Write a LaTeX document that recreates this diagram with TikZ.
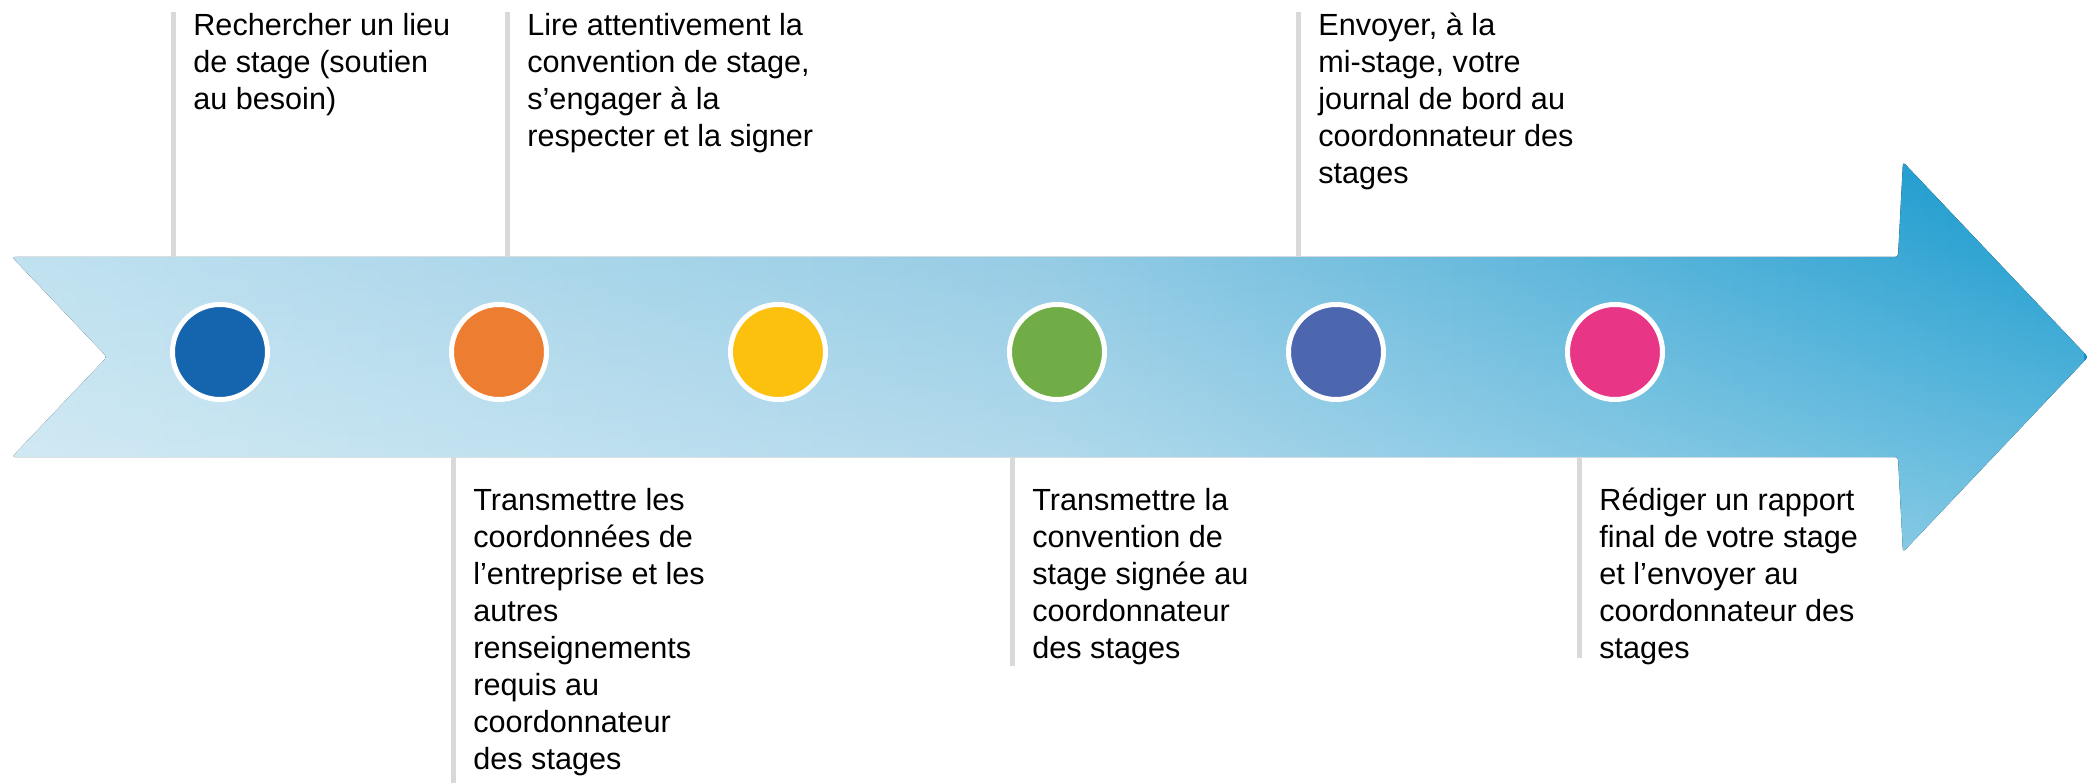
\documentclass[tikz,border=0pt]{standalone}
\usepackage{fontspec}
\setmainfont{Liberation Sans}
\usetikzlibrary{positioning, fadings}
\definecolor{stepblue}{RGB}{21,101,174}
\definecolor{steporange}{RGB}{237,125,49}
\definecolor{stepyellow}{RGB}{252,192,14}
\definecolor{stepgreen}{RGB}{112,173,71}
\definecolor{stepindigo}{RGB}{76,103,175}
\definecolor{steppink}{RGB}{232,53,134}
\definecolor{arrowlight}{RGB}{185,222,238}
\definecolor{arrowmid}{RGB}{137,198,226}
\definecolor{arrowdark}{RGB}{14,150,204}
\definecolor{guidegray}{RGB}{217,217,217}
\tikzfading[name=fadeup, top color=transparent!100, bottom color=transparent!55]

\begin{document}
\begin{tikzpicture}[
    x=0.5pt, y=0.5pt,
    node distance=92pt,
    stepdot/.style={circle, draw=white, line width=2.5pt, minimum size=47.5pt, inner sep=0pt, outer sep=0pt},
    stepnote/.style={anchor=north west, align=left, inner sep=0pt, font=\fontsize{15.3}{18.5}\selectfont, text=black},
    guide/.style={draw=guidegray, line width=2.5pt}
]
\useasboundingbox (0,0) rectangle (2088,783);

% big arrow
\coordinate (shafttop) at (12,526);
\coordinate (shaftbot) at (12,326);
\begin{scope}
  \clip [rounded corners=1.5pt]
    (shafttop) -- (1898,526) -- (1903,621) -- (2088,426) -- (1903,231) -- (1898,326) -- (shaftbot) -- (107,426) -- cycle;
  \fill [left color=arrowlight, right color=arrowdark, middle color=arrowmid] (12,231) rectangle (2088,621);
  \fill [white, path fading=fadeup] (12,231) rectangle (2088,621);
\end{scope}

% steps
\node (c1) [stepdot, fill=stepblue] at (220,431) {};
\node (c2) [stepdot, fill=steporange, right=of c1] {};
\node (c3) [stepdot, fill=stepyellow, right=of c2] {};
\node (c4) [stepdot, fill=stepgreen, right=of c3] {};
\node (c5) [stepdot, fill=stepindigo, right=of c4] {};
\node (c6) [stepdot, fill=steppink, right=of c5] {};

% guide lines
\coordinate (t1) at (173,771);
\coordinate (t3) at (507,771);
\coordinate (t5) at (1298,771);
\coordinate (b2) at (453,326);
\coordinate (b4) at (1012,326);
\coordinate (b6) at (1579,326);
\coordinate (b2end) at (453,0);
\coordinate (b4end) at (1012,117);
\coordinate (b6end) at (1579,125);

\draw [guide] (t1) -- (t1 |- shafttop);
\draw [guide] (t3) -- (t3 |- shafttop);
\draw [guide] (t5) -- (t5 |- shafttop);
\draw [guide] (b2) -- (b2end);
\draw [guide] (b4) -- (b4end);
\draw [guide] (b6) -- (b6end);

% texts
\node (n1) [stepnote, below right=0.3pt and 10pt of t1] {Rechercher un lieu\\de stage (soutien\\au besoin)};
\node (n3) [stepnote, below right=0.3pt and 10pt of t3] {Lire attentivement la\\convention de stage,\\s’engager à la\\respecter et la signer};
\node (n5) [stepnote, below right=0.3pt and 10pt of t5] {Envoyer, à la\\mi-stage, votre\\journal de bord au\\coordonnateur des\\stages};
\node (n2) [stepnote, below right=15.5pt and 10pt of b2] {Transmettre les\\coordonnées de\\l’entreprise et les\\autres\\renseignements\\requis au\\coordonnateur\\des stages};
\node (n4) [stepnote, below right=15.5pt and 10pt of b4] {Transmettre la\\convention de\\stage signée au\\coordonnateur\\des stages};
\node (n6) [stepnote, below right=15.5pt and 10pt of b6] {Rédiger un rapport\\final de votre stage\\et l’envoyer au\\coordonnateur des\\stages};

\end{tikzpicture}
\end{document}
